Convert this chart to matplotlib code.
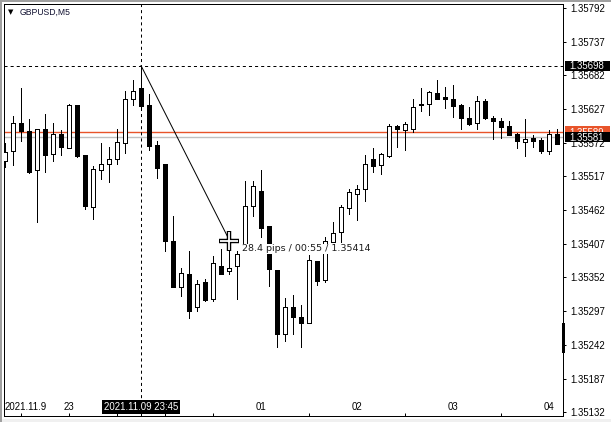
import matplotlib
matplotlib.use('Agg')
import matplotlib.pyplot as plt
from matplotlib.patches import Rectangle
import matplotlib.transforms as mtransforms

plt.rcParams['font.family'] = ['Liberation Sans', 'DejaVu Sans']
plt.rcParams['lines.scale_dashes'] = False

# ---- data (GBPUSD, M5) ----
opens = [1.35542, 1.35558, 1.35605, 1.35591, 1.35527, 1.35594, 1.35553, 1.35587, 1.35563, 1.35633,
         1.35552, 1.35467, 1.35528, 1.35537, 1.35545, 1.35571, 1.35644, 1.35662, 1.35633, 1.35568,
         1.35537, 1.35411, 1.35337, 1.35357, 1.35304, 1.35345, 1.35317, 1.35370, 1.35363, 1.35370,
         1.35395, 1.35469, 1.35493, 1.35436, 1.35364, 1.35260, 1.35303, 1.35287, 1.35277, 1.35379,
         1.35348, 1.35410, 1.35426, 1.35465, 1.35489, 1.35496, 1.35545, 1.35535, 1.35551, 1.35599,
         1.35592, 1.35595, 1.35635, 1.35635, 1.35653, 1.35646, 1.35644, 1.35633, 1.35613, 1.35605,
         1.35640, 1.35613, 1.35608, 1.35599, 1.35586, 1.35573, 1.35580, 1.35576, 1.35559, 1.35586]
highs = [1.35572, 1.35616, 1.35661, 1.35610, 1.35595, 1.35619, 1.35605, 1.35592, 1.35636, 1.35634,
         1.35552, 1.35534, 1.35571, 1.35565, 1.35595, 1.35657, 1.35674, 1.35698, 1.35652, 1.35574,
         1.35537, 1.35453, 1.35368, 1.35395, 1.35348, 1.35349, 1.35387, 1.35398, 1.35399, 1.35396,
         1.35509, 1.35509, 1.35527, 1.35436, 1.35364, 1.35319, 1.35323, 1.35307, 1.35388, 1.35379,
         1.35418, 1.35442, 1.35471, 1.35496, 1.35503, 1.35552, 1.35564, 1.35556, 1.35602, 1.35601,
         1.35606, 1.35643, 1.35661, 1.35656, 1.35674, 1.35663, 1.35666, 1.35635, 1.35630, 1.35648,
         1.35644, 1.35616, 1.35613, 1.35607, 1.35588, 1.35611, 1.35585, 1.35580, 1.35593, 1.35595]
lows = [1.35532, 1.35536, 1.35574, 1.35523, 1.35443, 1.35525, 1.35542, 1.35552, 1.35563, 1.35549,
        1.35464, 1.35448, 1.35513, 1.35508, 1.35538, 1.35555, 1.35634, 1.35625, 1.35560, 1.35514,
        1.35396, 1.35337, 1.35322, 1.35286, 1.35298, 1.35313, 1.35314, 1.35358, 1.35358, 1.35317,
        1.35392, 1.35453, 1.35418, 1.35338, 1.35238, 1.35248, 1.35259, 1.35238, 1.35277, 1.35339,
        1.35345, 1.35410, 1.35410, 1.35455, 1.35446, 1.35477, 1.35525, 1.35521, 1.35549, 1.35565,
        1.35560, 1.35590, 1.35624, 1.35617, 1.35644, 1.35629, 1.35614, 1.35594, 1.35601, 1.35594,
        1.35610, 1.35578, 1.35580, 1.35584, 1.35564, 1.35551, 1.35565, 1.35556, 1.35553, 1.35570]
closes = [1.35557, 1.35604, 1.35591, 1.35525, 1.35595, 1.35552, 1.35587, 1.35565, 1.35633, 1.35550,
          1.35469, 1.35529, 1.35537, 1.35545, 1.35573, 1.35644, 1.35657, 1.35632, 1.35567, 1.35531,
          1.35411, 1.35337, 1.35359, 1.35298, 1.35342, 1.35315, 1.35375, 1.35358, 1.35368, 1.35391,
          1.35469, 1.35501, 1.35433, 1.35365, 1.35260, 1.35303, 1.35287, 1.35278, 1.35380, 1.35347,
          1.35411, 1.35425, 1.35467, 1.35491, 1.35496, 1.35537, 1.35534, 1.35553, 1.35599, 1.35594,
          1.35602, 1.35631, 1.35633, 1.35654, 1.35644, 1.35644, 1.35632, 1.35613, 1.35602, 1.35640,
          1.35613, 1.35608, 1.35598, 1.35585, 1.35575, 1.35578, 1.35575, 1.35559, 1.35586, 1.35570]

price_ticks = [1.35792, 1.35737, 1.35682, 1.35627, 1.35572, 1.35517, 1.35462,
               1.35407, 1.35352, 1.35297, 1.35242, 1.35187, 1.35132]
time_label_text = ["2021.11.9", "23", "01", "02", "03", "04"]
time_label_pos = [0, 8, 32, 44, 56, 68]
time_tick_pos = [2, 8, 14, 20, 26, 38, 50, 62]

symbol = "GBPUSD,M5"
cross_bar = 17
cross_price = 1.35698
cross_time = "2021.11.09 23:45"
measure_end_bar = 28
measure_end_price = 1.35414
measure_text = "28.4 pips / 00:55 / 1.35414"
bid_price = 1.35581
ask_price = 1.35589

# ---- figure ----
W, H = 611, 422
fig = plt.figure(figsize=(W / 100, H / 100), dpi=100)
fig.patch.set_facecolor('white')
L, R, T, B = 4, 563.3, 4, 415.5
ax = fig.add_axes([L / W, (H - B) / H, (R - L) / W, (B - T) / H])
ax.set_facecolor('white')
ylo, yhi = 1.351266, 1.357985
ax.set_ylim(ylo, yhi)
ax.set_xlim(-0.125, 69.79)
px = (yhi - ylo) / (B - T)   # price per pixel

for s in ax.spines.values():
    s.set_color('black')
    s.set_linewidth(0.72)

# price / ask lines
ax.axhline(ask_price, color='#e8542a', lw=1.0, zorder=1)
ax.axhline(bid_price, color='#c0c0c0', lw=1.0, zorder=1)

# candles
for i, (o, h, l, c) in enumerate(zip(opens, highs, lows, closes)):
    ax.vlines(i, l, h, color='black', lw=0.72, zorder=3, antialiased=False)
    bottom = min(o, c)
    height = max(abs(c - o), px * 1.5)
    fc = 'white' if c >= o else 'black'
    ax.add_patch(Rectangle((i - 0.25, bottom), 0.5, height, facecolor=fc,
                           edgecolor='black', lw=0.72, zorder=4, antialiased=False))

# crosshair
ax.axvline(cross_bar, color='black', lw=0.72, ls=(0, (2.2, 2.2)), zorder=5)
ax.axhline(cross_price, color='black', lw=0.72, ls=(0, (2.2, 2.2)), zorder=5)

# measurement line
ax.plot([cross_bar, measure_end_bar], [cross_price, measure_end_price], color='black', lw=0.72, zorder=6)
ax.annotate(measure_text, (measure_end_bar, measure_end_price), xytext=(9.4, -6.8),
            textcoords='offset points', ha='left', va='center', fontsize=6.8, color='#1a1a1a', zorder=9,
            family='DejaVu Sans',
            bbox=dict(boxstyle='square,pad=0.05', fc='white', ec='none'))
ax.plot(measure_end_bar, measure_end_price - px * 1.5, marker='+', markersize=14, mew=3.2, color='black', zorder=10)
ax.plot(measure_end_bar, measure_end_price - px * 1.5, marker='+', markersize=12.6, mew=1.3, color='white', zorder=11)

# axes ticks
ax.yaxis.tick_right()
ax.set_yticks(price_ticks)
ax.set_yticklabels([f"{p:.5f}" for p in price_ticks])
ax.tick_params(axis='y', direction='out', length=2.2, width=0.72, pad=2.6, labelsize=6.9, colors='black')
ax.set_xticks(time_tick_pos)
ax.set_xticklabels([])
ax.tick_params(axis='x', direction='in', length=2.3, width=0.72, colors='black')

tr = mtransforms.blended_transform_factory(ax.transData, ax.transAxes)
yfrac = (B - 407) / (B - T)
for txt, pos in zip(time_label_text, time_label_pos):
    ax.text(pos, yfrac, txt, transform=tr, ha='left' if txt.startswith('2021') else 'center',
            va='center', fontsize=6.9, color='black', zorder=10)

# crosshair time label
ax.text(cross_bar, yfrac, cross_time, transform=tr, ha='center', va='center', fontsize=6.9,
        color='white', zorder=11,
        bbox=dict(boxstyle='square,pad=0.22', fc='black', ec='none'))

# right price-axis labels (boxes drawn as patches)
trr = mtransforms.blended_transform_factory(ax.transAxes, ax.transData)
xlab = (569 - L) / (R - L)
xbox0 = (565 - L) / (R - L)
xbox1 = (610 - L) / (R - L)


def price_box(price, color, hpx, z):
    ax.add_patch(Rectangle((xbox0, price - hpx / 2 * px), xbox1 - xbox0, hpx * px,
                           transform=trr, fc=color, ec='none', clip_on=False, zorder=z))
    return ax.text(xlab, price - 0.4 * px, f"{price:.5f}", transform=trr, ha='left', va='center',
                   fontsize=6.9, color='white', clip_on=False, zorder=z + 0.5)


price_box(ask_price, '#e8542a', 12, 11)
price_box(bid_price, 'black', 10, 12)
price_box(cross_price, 'black', 10, 12)

# symbol title
fig.text(8 / W, 1 - 12 / H, '\u25bc', fontsize=5, va='center', ha='left', color='black',
         family='DejaVu Sans')
fig.text(20 / W, 1 - 12 / H, symbol, fontsize=6.2, va='center', ha='left', color='#101030')

# window chrome
fig.patches.append(Rectangle((0, 0), W, 3, transform=None, fc='#f0f0f0', ec='none', zorder=-1))
fig.patches.append(Rectangle((0, 0), 1.5, H, transform=None, fc='#a0a0a0', ec='none', zorder=-1))
fig.patches.append(Rectangle((0, H - 1.5), W, 1.5, transform=None, fc='#a0a0a0', ec='none', zorder=-1))
fig.patches.append(Rectangle((561.8, H - 353), 3, 30, transform=None, fc='black', ec='none', zorder=20))

fig.savefig('out.png', dpi=100, facecolor=fig.get_facecolor())
